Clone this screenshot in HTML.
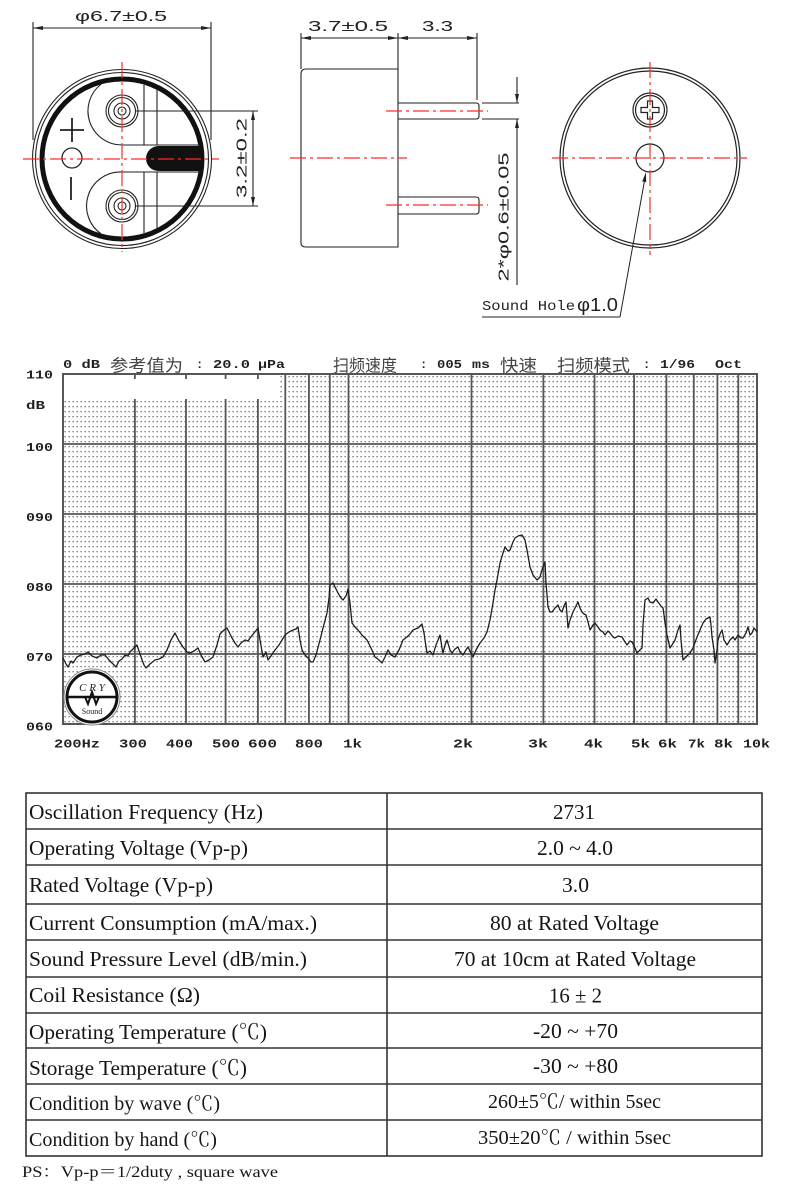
<!DOCTYPE html>
<html><head><meta charset="utf-8"><style>
html,body{margin:0;padding:0;background:#fff;}
svg{display:block;}
.dim{font-family:"Liberation Sans",sans-serif;font-size:15px;fill:#222;}
.mono{font-family:"Liberation Mono",monospace;font-weight:bold;font-size:12px;fill:#222;}
.cjk{font-family:"Liberation Sans","Noto Sans CJK SC",sans-serif;font-size:17px;fill:#444;}
.tb{font-family:"Liberation Serif","Noto Serif CJK SC",serif;font-size:21px;fill:#151515;}
.tbs{font-family:"Liberation Serif","Noto Serif CJK SC",serif;font-size:19.5px;fill:#151515;}
</style></head><body>
<svg width="790" height="1185" viewBox="0 0 790 1185" xmlns="http://www.w3.org/2000/svg">
<defs>
<pattern id="dots" x="63" y="374" width="4" height="5" patternUnits="userSpaceOnUse">
<rect x="1.5" y="2" width="1.3" height="1.3" fill="#6a6a6a"/>
</pattern>
</defs>
<rect width="790" height="1185" fill="#fff"/>

<!-- ============ LEFT DRAWING ============ -->
<g fill="none" stroke="#222" stroke-width="1.1">
<line x1="33" y1="22" x2="33" y2="140"/>
<line x1="211" y1="22" x2="211" y2="140"/>
<line x1="33" y1="28" x2="211" y2="28"/>
<circle cx="122" cy="159" r="89.5"/>
<circle cx="122" cy="159" r="86.5"/>
<circle cx="122" cy="159" r="80" stroke-width="5" stroke="#111"/>
<path d="M101.3,84 A34,34 0 0 0 122,145 L200,145"/>
<path d="M200,172 L122,172 A34,34 0 0 0 101.3,234"/>
<line x1="144" y1="85" x2="144" y2="145"/>
<line x1="157" y1="90" x2="157" y2="145"/>
<line x1="144" y1="172" x2="144" y2="233"/>
<line x1="157" y1="172" x2="157" y2="228"/>
<circle cx="122" cy="111" r="16"/>
<circle cx="122" cy="111" r="13.5"/>
<circle cx="122" cy="111" r="8"/>
<circle cx="122" cy="111" r="4"/>
<circle cx="122" cy="206" r="16"/>
<circle cx="122" cy="206" r="13.5"/>
<circle cx="122" cy="206" r="8"/>
<circle cx="122" cy="206" r="4"/>
<line x1="136" y1="111" x2="258" y2="111"/>
<line x1="136" y1="206" x2="258" y2="206"/>
<line x1="253" y1="111" x2="253" y2="206"/>
<circle cx="72" cy="158" r="10" stroke-width="1.3"/>
<line x1="60" y1="130" x2="84" y2="130" stroke-width="1.8"/>
<line x1="72" y1="118" x2="72" y2="142" stroke-width="1.8"/>
<line x1="71" y1="177" x2="71" y2="200" stroke-width="1.8"/>
</g>
<path d="M158.5,146 L201,146 L201,171 L158.5,171 A12.5,12.5 0 0 1 158.5,146 Z" fill="#111"/>
<g fill="#222">
<polygon points="33,28 43,26 43,30"/>
<polygon points="211,28 201,26 201,30"/>
<polygon points="253,111 251,120 255,120"/>
<polygon points="253,206 251,197 255,197"/>
</g>
<g stroke="#ff2a2a" stroke-width="1.2" stroke-dasharray="16,4,3,4" fill="none">
<line x1="122" y1="62" x2="122" y2="252"/>
<line x1="23" y1="159" x2="219" y2="159"/>
</g>
<text class="dim" x="75" y="21" textLength="92" lengthAdjust="spacingAndGlyphs">φ6.7±0.5</text>
<text class="dim" x="0" y="0" text-anchor="middle" textLength="80" lengthAdjust="spacingAndGlyphs" transform="translate(246.5,158) rotate(-90)">3.2±0.2</text>

<!-- ============ MIDDLE DRAWING ============ -->
<g fill="none" stroke="#222" stroke-width="1.1">
<line x1="301" y1="33" x2="301" y2="69"/>
<line x1="398" y1="33" x2="398" y2="69"/>
<line x1="477" y1="33" x2="477" y2="100"/>
<line x1="301" y1="38" x2="477" y2="38"/>
<path d="M301,74 Q301,69 306,69 L398,69 L398,247 L306,247 Q301,247 301,243 Z"/>
<path d="M398,103 L476,103 Q479,103 479,106 L479,116 Q479,119 476,119 L398,119"/>
<path d="M398,197 L476,197 Q479,197 479,200 L479,211 Q479,214 476,214 L398,214"/>
<line x1="482" y1="103" x2="519" y2="103"/>
<line x1="482" y1="119" x2="519" y2="119"/>
<line x1="517" y1="77" x2="517" y2="103"/>
<line x1="517" y1="119" x2="517" y2="285"/>
</g>
<g fill="#222">
<polygon points="301,38 311,36 311,40"/>
<polygon points="398,38 388,36 388,40"/>
<polygon points="398,38 408,36 408,40"/>
<polygon points="477,38 467,36 467,40"/>
<polygon points="517,103 515,94 519,94"/>
<polygon points="517,119 515,128 519,128"/>
</g>
<g stroke="#ff2a2a" stroke-width="1.2" stroke-dasharray="16,4,3,4" fill="none">
<line x1="386" y1="111" x2="488" y2="111"/>
<line x1="386" y1="205" x2="488" y2="205"/>
<line x1="290" y1="158" x2="407" y2="158"/>
</g>
<text class="dim" x="308" y="31" textLength="80" lengthAdjust="spacingAndGlyphs">3.7±0.5</text>
<text class="dim" x="422" y="31" textLength="31" lengthAdjust="spacingAndGlyphs">3.3</text>
<text class="dim" x="0" y="0" text-anchor="middle" textLength="129" lengthAdjust="spacingAndGlyphs" transform="translate(508.5,217) rotate(-90)">2*φ0.6±0.05</text>

<!-- ============ RIGHT DRAWING ============ -->
<g fill="none" stroke="#222" stroke-width="1.2">
<circle cx="650" cy="158" r="90"/>
<circle cx="650" cy="158" r="87"/>
<circle cx="650" cy="110" r="17"/>
<circle cx="650" cy="110" r="14.5"/>
<path d="M647.5,101 h5 v6.5 h6.5 v5 h-6.5 v6.5 h-5 v-6.5 h-6.5 v-5 h6.5 Z"/>
<circle cx="650" cy="158" r="14"/>
<line x1="645" y1="178" x2="620" y2="317" stroke-width="1"/>
<line x1="620" y1="317" x2="482" y2="317" stroke-width="1"/>
</g>
<polygon points="646,172 646.2,182.2 642.2,181.4" fill="#222"/>
<g stroke="#ff2a2a" stroke-width="1.2" stroke-dasharray="16,4,3,4" fill="none">
<line x1="650" y1="62" x2="650" y2="255"/>
<line x1="552" y1="158" x2="747" y2="158"/>
</g>
<text x="482" y="310" font-family="Liberation Mono,monospace" font-size="14" fill="#222" textLength="93" lengthAdjust="spacingAndGlyphs">Sound Hole</text>
<text x="577" y="311" font-family="Liberation Sans,sans-serif" font-size="18" fill="#222" textLength="41" lengthAdjust="spacingAndGlyphs">φ1.0</text>

<!-- ============ CHART ============ -->
<rect x="63" y="374" width="694" height="350" fill="url(#dots)"/>
<rect x="64" y="375" width="214" height="24" fill="#fff"/>
<g stroke="#555" stroke-width="1.8" fill="none">
<line x1="63" y1="444" x2="757" y2="444"/>
<line x1="63" y1="514" x2="757" y2="514"/>
<line x1="63" y1="584" x2="757" y2="584"/>
<line x1="63" y1="654" x2="757" y2="654"/>
<line x1="134.9" y1="399" x2="134.9" y2="724"/>
<line x1="186" y1="399" x2="186" y2="724"/>
<line x1="225.6" y1="399" x2="225.6" y2="724"/>
<line x1="257.9" y1="399" x2="257.9" y2="724"/>
<line x1="134.9" y1="374" x2="134.9" y2="379"/>
<line x1="186" y1="374" x2="186" y2="379"/>
<line x1="225.6" y1="374" x2="225.6" y2="379"/>
<line x1="257.9" y1="374" x2="257.9" y2="379"/>
<line x1="285.3" y1="374" x2="285.3" y2="724"/>
<line x1="308.9" y1="374" x2="308.9" y2="724"/>
<line x1="329.8" y1="374" x2="329.8" y2="724"/>
<line x1="348.5" y1="374" x2="348.5" y2="724"/>
<line x1="471.5" y1="374" x2="471.5" y2="724"/>
<line x1="543.4" y1="374" x2="543.4" y2="724"/>
<line x1="594.5" y1="374" x2="594.5" y2="724"/>
<line x1="634.1" y1="374" x2="634.1" y2="724"/>
<line x1="666.4" y1="374" x2="666.4" y2="724"/>
<line x1="693.8" y1="374" x2="693.8" y2="724"/>
<line x1="717.4" y1="374" x2="717.4" y2="724"/>
<line x1="738.3" y1="374" x2="738.3" y2="724"/>
<rect x="63" y="374" width="694" height="350" stroke-width="2"/>
</g>

<!-- logo -->
<g>
<circle cx="92" cy="697" r="28" fill="#fff" stroke="#888" stroke-width="1"/>
<circle cx="92" cy="697" r="25" fill="#fff" stroke="#111" stroke-width="3"/>
<text x="92" y="691" text-anchor="middle" font-family="Liberation Serif,serif" font-style="italic" font-size="11" fill="#222">C R Y</text>
<line x1="68" y1="697" x2="116" y2="697" stroke="#111" stroke-width="2.5"/>
<path d="M85,697 L88,704 L92,692 L96,704 L99,697" stroke="#111" stroke-width="2" fill="none"/>
<text x="92" y="714" text-anchor="middle" font-family="Liberation Serif,serif" font-size="8" fill="#222">Sound</text>
</g>

<!-- curve -->
<polyline fill="none" stroke="#1e1e1e" stroke-width="1.3" stroke-linejoin="round" points="63,658 66,664 68,667 71,661 73,663 77,657 81,655 85,654 88,652 92,656 97,658 101,655 105,655 109,660 113,664 116,667 119,661 122,659 125,655 128,656 130,652 134,648 137,645 141,657 144,665 146,668 150,664 155,660 159,659 163,657 167,650 171,640 175,633 179,641 183,647 187,652 190,653 194,651 198,648 201,655 205,662 209,660 213,657 217,645 220,634 224,630 227,628 230,634 232,638 235,643 238,647 241,643 245,640 248,641 250,638 254,633 258,628 260,640 263,657 266,652 268,660 271,656 275,650 279,645 282,640 285,635 289,632 293,630 296,629 298,627 300,640 302,650 305,655 308,658 311,662 313,662 316,655 320,640 323,628 327,613 329,598 330,585 333,583 336,589 338,593 341,598 343,600 346,596 348,589 350,603 352,623 355,627 358,630 362,635 367,640 371,648 375,657 379,660 382,663 385,657 388,650 391,655 395,657 399,650 403,640 407,637 410,634 413,630 418,628 422,624 424,633 425,640 427,653 430,651 433,655 436,645 440,635 442,648 443,653 445,645 447,640 450,650 452,653 455,649 458,647 460,652 463,655 466,650 468,647 471,653 473,657 476,650 480,643 484,638 487,632 490,620 493,603 495,590 497,580 500,563 503,553 505,547 508,551 510,550 513,542 515,538 518,536 522,535 525,540 527,550 530,567 533,575 537,580 540,577 542,570 543,567 545,562 546,583 548,607 550,612 552,612 555,608 558,605 560,610 562,612 564,606 566,602 568,628 570,620 573,612 576,606 578,602 580,608 582,612 584,614 586,615 588,622 590,630 593,625 595,623 598,627 600,630 603,632 605,635 608,631 610,633 613,637 615,638 618,636 622,637 625,642 627,645 630,641 632,642 635,648 637,653 640,650 642,648 643,625 645,600 648,598 650,602 653,603 656,599 658,602 661,606 663,608 664,615 665,623 667,635 670,648 672,645 675,640 678,630 680,625 681,640 683,660 686,657 690,653 693,648 697,637 700,630 703,623 706,619 710,617 711,625 712,637 714,650 715,663 717,650 718,640 720,634 722,630 724,640 727,645 730,640 733,637 735,640 738,635 741,638 743,638 746,633 748,627 750,635 752,633 754,628 757,632"/>

<!-- chart header -->
<text class="mono" x="63" y="368" textLength="37" lengthAdjust="spacingAndGlyphs">0 dB</text>
<text class="cjk" x="110" y="371.5" textLength="73" lengthAdjust="spacingAndGlyphs">参考值为</text>
<text class="mono" x="196" y="368">:</text>
<text class="mono" x="213" y="368" textLength="37" lengthAdjust="spacingAndGlyphs">20.0</text>
<text class="mono" x="258" y="368" textLength="27" lengthAdjust="spacingAndGlyphs">μPa</text>
<text class="cjk" x="333" y="371.5" textLength="64" lengthAdjust="spacingAndGlyphs">扫频速度</text>
<text class="mono" x="420" y="368">:</text>
<text class="mono" x="437" y="368" textLength="25" lengthAdjust="spacingAndGlyphs">005</text>
<text class="mono" x="472" y="368" textLength="18" lengthAdjust="spacingAndGlyphs">ms</text>
<text class="cjk" x="500" y="371.5" textLength="37" lengthAdjust="spacingAndGlyphs">快速</text>
<text class="cjk" x="557" y="371.5" textLength="73" lengthAdjust="spacingAndGlyphs">扫频模式</text>
<text class="mono" x="643" y="368">:</text>
<text class="mono" x="660" y="368" textLength="35" lengthAdjust="spacingAndGlyphs">1/96</text>
<text class="mono" x="715" y="368" textLength="27" lengthAdjust="spacingAndGlyphs">Oct</text>

<!-- y labels -->
<text class="mono" x="26" y="378.5" textLength="27" lengthAdjust="spacingAndGlyphs">110</text>
<text class="mono" x="26" y="409" textLength="19" lengthAdjust="spacingAndGlyphs">dB</text>
<text class="mono" x="26" y="451" textLength="27" lengthAdjust="spacingAndGlyphs">100</text>
<text class="mono" x="26" y="521" textLength="27" lengthAdjust="spacingAndGlyphs">090</text>
<text class="mono" x="26" y="591" textLength="27" lengthAdjust="spacingAndGlyphs">080</text>
<text class="mono" x="26" y="661" textLength="27" lengthAdjust="spacingAndGlyphs">070</text>
<text class="mono" x="26" y="730.5" textLength="27" lengthAdjust="spacingAndGlyphs">060</text>

<!-- x labels -->
<text class="mono" x="54" y="747.5" textLength="46" lengthAdjust="spacingAndGlyphs">200Hz</text>
<text class="mono" x="119" y="747.5" textLength="28" lengthAdjust="spacingAndGlyphs">300</text>
<text class="mono" x="166" y="747.5" textLength="27" lengthAdjust="spacingAndGlyphs">400</text>
<text class="mono" x="212" y="747.5" textLength="28" lengthAdjust="spacingAndGlyphs">500</text>
<text class="mono" x="248" y="747.5" textLength="29" lengthAdjust="spacingAndGlyphs">600</text>
<text class="mono" x="295" y="747.5" textLength="28" lengthAdjust="spacingAndGlyphs">800</text>
<text class="mono" x="343" y="747.5" textLength="19" lengthAdjust="spacingAndGlyphs">1k</text>
<text class="mono" x="453" y="747.5" textLength="20" lengthAdjust="spacingAndGlyphs">2k</text>
<text class="mono" x="528" y="747.5" textLength="20" lengthAdjust="spacingAndGlyphs">3k</text>
<text class="mono" x="584" y="747.5" textLength="19" lengthAdjust="spacingAndGlyphs">4k</text>
<text class="mono" x="631" y="747.5" textLength="19" lengthAdjust="spacingAndGlyphs">5k</text>
<text class="mono" x="658" y="747.5" textLength="19" lengthAdjust="spacingAndGlyphs">6k</text>
<text class="mono" x="688" y="747.5" textLength="17" lengthAdjust="spacingAndGlyphs">7k</text>
<text class="mono" x="714" y="747.5" textLength="19" lengthAdjust="spacingAndGlyphs">8k</text>
<text class="mono" x="743" y="747.5" textLength="27" lengthAdjust="spacingAndGlyphs">10k</text>

<!-- ============ TABLE ============ -->
<g stroke="#333" stroke-width="1.6" fill="none">
<rect x="26" y="793" width="736" height="363"/>
<line x1="387" y1="793" x2="387" y2="1156"/>
<line x1="26" y1="829" x2="762" y2="829"/>
<line x1="26" y1="865" x2="762" y2="865"/>
<line x1="26" y1="904" x2="762" y2="904"/>
<line x1="26" y1="940" x2="762" y2="940"/>
<line x1="26" y1="977" x2="762" y2="977"/>
<line x1="26" y1="1013" x2="762" y2="1013"/>
<line x1="26" y1="1048" x2="762" y2="1048"/>
<line x1="26" y1="1084" x2="762" y2="1084"/>
<line x1="26" y1="1120" x2="762" y2="1120"/>
</g>
<text class="tb" x="29" y="819" textLength="234" lengthAdjust="spacingAndGlyphs">Oscillation Frequency (Hz)</text>
<text class="tb" x="29" y="855" textLength="219" lengthAdjust="spacingAndGlyphs">Operating Voltage (Vp-p)</text>
<text class="tb" x="29" y="892" textLength="184" lengthAdjust="spacingAndGlyphs">Rated Voltage (Vp-p)</text>
<text class="tb" x="29" y="930" textLength="288" lengthAdjust="spacingAndGlyphs">Current Consumption (mA/max.)</text>
<text class="tb" x="29" y="966" textLength="278" lengthAdjust="spacingAndGlyphs">Sound Pressure Level (dB/min.)</text>
<text class="tb" x="29" y="1002" textLength="171" lengthAdjust="spacingAndGlyphs">Coil Resistance (Ω)</text>
<text class="tb" x="29" y="1039" textLength="238" lengthAdjust="spacingAndGlyphs">Operating Temperature (℃)</text>
<text class="tb" x="29" y="1075" textLength="218" lengthAdjust="spacingAndGlyphs">Storage Temperature (℃)</text>
<text class="tbs" x="29" y="1110" textLength="191" lengthAdjust="spacingAndGlyphs">Condition by wave (℃)</text>
<text class="tbs" x="29" y="1146" textLength="188" lengthAdjust="spacingAndGlyphs">Condition by hand (℃)</text>

<text class="tb" x="553" y="819" textLength="42" lengthAdjust="spacingAndGlyphs">2731</text>
<text class="tb" x="537" y="855" textLength="76" lengthAdjust="spacingAndGlyphs">2.0 ~ 4.0</text>
<text class="tb" x="562" y="892" textLength="27" lengthAdjust="spacingAndGlyphs">3.0</text>
<text class="tb" x="490" y="930" textLength="169" lengthAdjust="spacingAndGlyphs">80 at Rated Voltage</text>
<text class="tb" x="454" y="966" textLength="242" lengthAdjust="spacingAndGlyphs">70 at 10cm at Rated Voltage</text>
<text class="tb" x="549" y="1002.5" textLength="53" lengthAdjust="spacingAndGlyphs">16 ± 2</text>
<text class="tb" x="533" y="1038" textLength="85" lengthAdjust="spacingAndGlyphs">-20 ~ +70</text>
<text class="tb" x="533" y="1073" textLength="85" lengthAdjust="spacingAndGlyphs">-30 ~ +80</text>
<text class="tbs" x="488" y="1108" textLength="173" lengthAdjust="spacingAndGlyphs">260±5℃/ within 5sec</text>
<text class="tbs" x="478" y="1144" textLength="193" lengthAdjust="spacingAndGlyphs">350±20℃  / within 5sec</text>

<text x="22" y="1177" font-family="Liberation Serif,Noto Serif CJK SC,serif" font-size="16" fill="#151515" textLength="256" lengthAdjust="spacingAndGlyphs">PS：Vp-p＝1/2duty , square wave</text>
</svg>
</body></html>
